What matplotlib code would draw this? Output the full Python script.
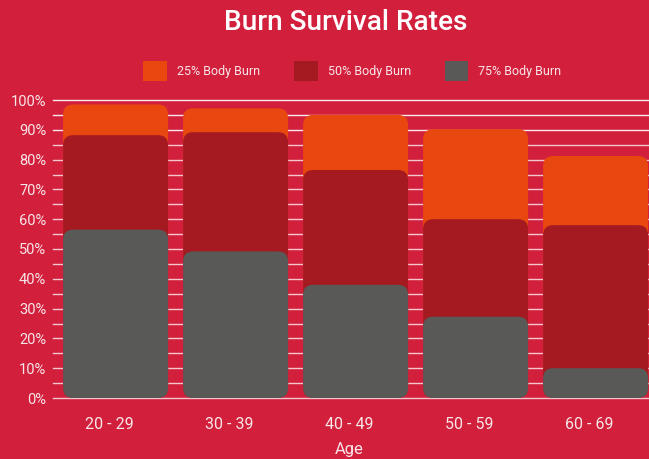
import matplotlib.pyplot as plt
from matplotlib.patches import FancyBboxPatch, Patch

plt.rcParams['font.family'] = ['Roboto', 'DejaVu Sans']

ages = ['20 - 29', '30 - 39', '40 - 49', '50 - 59', '60 - 69']
burn25 = [98.5, 97.2, 95, 90.2, 81.2]
burn50 = [88.2, 89.2, 76.5, 60, 58]
burn75 = [56.5, 49.2, 38, 27.3, 10]
series = ['25% Body Burn', '50% Body Burn', '75% Body Burn']
colors = ['#E8480F', '#A51921', '#595957']

bg = '#D21F3C'
txt = '#F8E6E9'

fig = plt.figure(figsize=(6.49, 4.59), dpi=100, facecolor=bg)
ax = fig.add_axes([49/649, 61/459, 600/649, 298/459])
ax.set_facecolor(bg)
ax.set_xlim(-0.5, 4.5)
ax.set_ylim(0, 100)

for v in range(0, 101, 5):
    ax.axhline(v, xmin=4/600, color='white', lw=1, alpha=0.9 if v >= 90 else 0.75,
               zorder=1, clip_on=False)

# rounding in pixels converted to data units
px_x = 5 / 600
px_y = 100 / 298
r = 10
w = 0.875
off = 0.055
for vals, c in zip([burn25, burn50, burn75], colors):
    for i, v in enumerate(vals):
        p = FancyBboxPatch((i - w/2 + off, 0), w, v,
                           boxstyle='round,pad=0,rounding_size=%f' % (r * px_x),
                           mutation_aspect=px_y / px_x,
                           fc=c, ec='none', zorder=3)
        ax.add_patch(p)

ax.set_yticks(range(0, 101, 10))
ax.set_yticklabels(['%d%%' % v for v in range(0, 101, 10)])
ax.set_xticks(range(len(ages)))
ax.set_xticklabels(ages)
ax.tick_params(colors=txt, length=0)
ax.tick_params(axis='x', pad=14, labelsize=11.5)
ax.tick_params(axis='y', pad=2, labelsize=10.5)
for s in ax.spines.values():
    s.set_visible(False)
ax.set_xlabel('Age', color=txt, fontsize=12, labelpad=7)

fig.text(0.533, 0.950, 'Burn Survival Rates', color='white', fontsize=20.2,
         fontweight='medium', ha='center', va='center')

handles = [Patch(fc=c, ec='none') for c in colors]
fig.legend(handles, series, loc='center', bbox_to_anchor=(0.543, 0.845), ncol=3,
           frameon=False, fontsize=9, labelcolor=txt, handlelength=1.9,
           handleheight=2.0, handletextpad=0.8, columnspacing=2.7)

fig.savefig('out.png', dpi=100, facecolor=bg)
